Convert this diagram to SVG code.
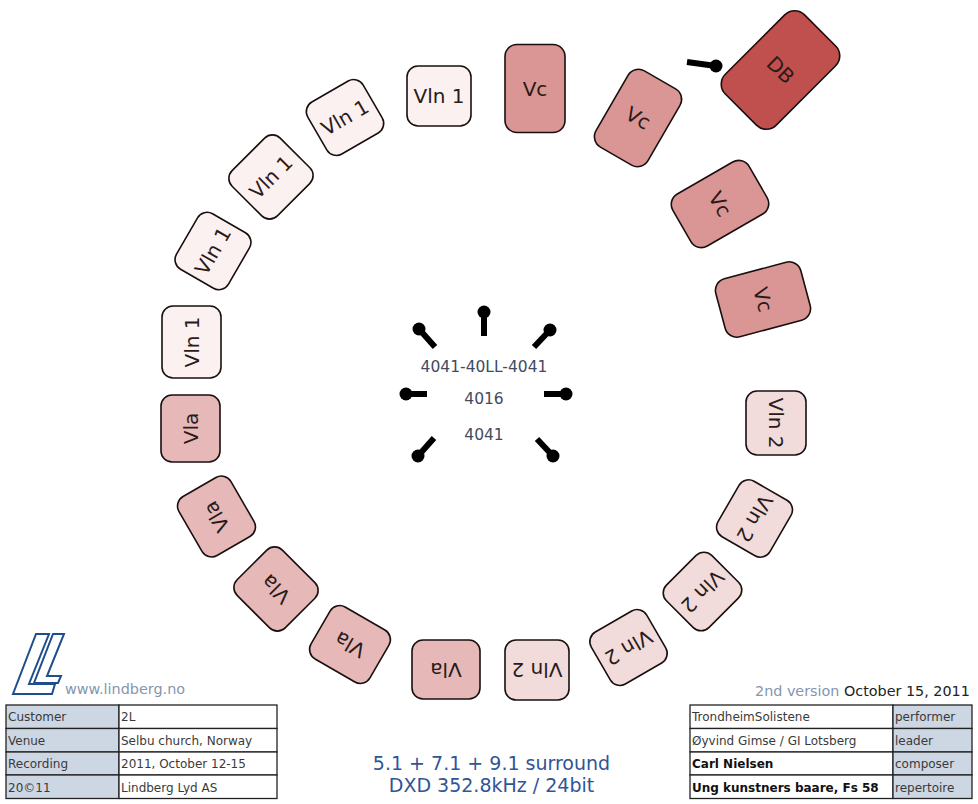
<svg xmlns="http://www.w3.org/2000/svg" width="978" height="804" viewBox="0 0 978 804">
<style>
text{font-family:"DejaVu Sans",Verdana,sans-serif}
.n rect{stroke:#1a0f0f;stroke-width:1.6}
.n text{font-size:20px;fill:#2a1a1a;text-anchor:middle;dominant-baseline:central}
.vc{fill:#d99694}.db{fill:#c0504d}.vla{fill:#e6b9b8}.v1{fill:#fbf1f0}.v2{fill:#f2dcdb}
.st{stroke:#000;stroke-width:6;fill:none}
.c{fill:#000}
.cell{stroke:#222;stroke-width:1.3;fill:#fff}
.lab.cell{fill:#cdd6e3}
.t{font-size:12px;fill:#3a3a3a}
.b{font-size:12px;fill:#111;font-weight:bold}
.m{font-size:15.5px;fill:#3f4c63;text-anchor:middle}
</style>
<rect width="978" height="804" fill="#fff"/>
<g id="connectors"></g>
<g id="n-db" class="n" transform="translate(780.5 70) rotate(45)"><rect class="db" x="-36" y="-56" width="72" height="112" rx="14"/><text>DB</text></g>
<g id="n-vc1" class="n" transform="translate(535 88.5)"><rect class="vc" x="-30" y="-44" width="60" height="88" rx="12"/><text>Vc</text></g>
<g id="n-vc2" class="n" transform="translate(638 118) rotate(30)"><rect class="vc" x="-30" y="-44" width="60" height="88" rx="12"/><text>Vc</text></g>
<g id="n-vc3" class="n" transform="translate(720 204) rotate(60)"><rect class="vc" x="-30" y="-44" width="60" height="88" rx="12"/><text>Vc</text></g>
<g id="n-vc4" class="n" transform="translate(763 299.5) rotate(75)"><rect class="vc" x="-30" y="-44" width="60" height="88" rx="12"/><text>Vc</text></g>
<g id="n-v1a" class="n" transform="translate(439 96)"><rect class="v1" x="-32" y="-30" width="64" height="60" rx="11"/><text>Vln 1</text></g>
<g id="n-v1b" class="n" transform="translate(345 117.5) rotate(-30)"><rect class="v1" x="-32" y="-30" width="64" height="60" rx="11"/><text>Vln 1</text></g>
<g id="n-v1c" class="n" transform="translate(271 177) rotate(-45)"><rect class="v1" x="-34" y="-32" width="68" height="64" rx="11"/><text>Vln 1</text></g>
<g id="n-v1d" class="n" transform="translate(213 251) rotate(-60)"><rect class="v1" x="-32" y="-30" width="64" height="60" rx="11"/><text>Vln 1</text></g>
<g id="n-v1e" class="n" transform="translate(191.5 342) rotate(-90)"><rect class="v1" x="-36" y="-29.500" width="72" height="59" rx="11"/><text>Vln 1</text></g>
<g id="n-vla1" class="n" transform="translate(190.5 428.500) rotate(-90)"><rect class="vla" x="-33.500" y="-29.500" width="67" height="59" rx="11"/><text>Vla</text></g>
<g id="n-vla2" class="n" transform="translate(216.500 516.500) rotate(-120)"><rect class="vla" x="-34" y="-30" width="68" height="60" rx="11"/><text>Vla</text></g>
<g id="n-vla3" class="n" transform="translate(276 589) rotate(-135)"><rect class="vla" x="-34" y="-32" width="68" height="64" rx="11"/><text>Vla</text></g>
<g id="n-vla4" class="n" transform="translate(350 644.500) rotate(-150)"><rect class="vla" x="-34" y="-30" width="68" height="60" rx="11"/><text>Vla</text></g>
<g id="n-vla5" class="n" transform="translate(446 669.500) rotate(180)"><rect class="vla" x="-34" y="-29.500" width="68" height="59" rx="11"/><text>Vla</text></g>
<g id="n-v2a" class="n" transform="translate(537 670) rotate(180)"><rect class="v2" x="-32" y="-30" width="64" height="60" rx="11"/><text>Vln 2</text></g>
<g id="n-v2b" class="n" transform="translate(628.500 647.500) rotate(150)"><rect class="v2" x="-32" y="-30" width="64" height="60" rx="11"/><text>Vln 2</text></g>
<g id="n-v2c" class="n" transform="translate(702.500 591.500) rotate(135)"><rect class="v2" x="-32" y="-30" width="64" height="60" rx="11"/><text>Vln 2</text></g>
<g id="n-v2d" class="n" transform="translate(754.500 518.500) rotate(120)"><rect class="v2" x="-32" y="-30" width="64" height="60" rx="11"/><text>Vln 2</text></g>
<g id="n-v2e" class="n" transform="translate(776 423) rotate(90)"><rect class="v2" x="-32" y="-30" width="64" height="60" rx="11"/><text>Vln 2</text></g>
<g id="mics">
<path class="st" d="M484 336V312M534 347L550 330M435 347L419 329M427 394H406M544 394H566M434 438L418 456M537 439L553 456M687 62L716 66"/>
<circle class="c" cx="484" cy="312" r="6.500"/><circle class="c" cx="550" cy="330" r="6.500"/><circle class="c" cx="419" cy="329" r="6.500"/><circle class="c" cx="406" cy="394" r="6.500"/><circle class="c" cx="566" cy="394" r="6.500"/><circle class="c" cx="418" cy="456" r="6.500"/><circle class="c" cx="553" cy="456" r="6.500"/><circle class="c" cx="716" cy="66" r="6.500"/>
</g>
<text class="m" x="484" y="372">4041-40LL-4041</text>
<text class="m" x="484" y="404">4016</text>
<text class="m" x="484" y="440">4041</text>
<g id="logo" fill="none" stroke="#1f4e8c" stroke-width="2"><path d="M36 634H49L29 684H55L52 694H13Z"/><path d="M53 634H64L47 676H61L58 683H34Z"/></g>
<text x="65" y="694" font-size="14.400" fill="#8496b0">www.lindberg.no</text>
<g id="tableL">
<rect class="cell lab" x="6" y="705" width="113" height="23.500"/><rect class="cell" x="119" y="705" width="158" height="23.500"/>
<rect class="cell lab" x="6" y="728.500" width="113" height="23.500"/><rect class="cell" x="119" y="728.500" width="158" height="23.500"/>
<rect class="cell lab" x="6" y="752" width="113" height="23"/><rect class="cell" x="119" y="752" width="158" height="23"/>
<rect class="cell lab" x="6" y="775" width="113" height="23.500"/><rect class="cell" x="119" y="775" width="158" height="23.500"/>
<text class="t" x="8" y="721">Customer</text><text class="t" x="121" y="721">2L</text>
<text class="t" x="8" y="745">Venue</text><text class="t" x="121" y="745">Selbu church, Norway</text>
<text class="t" x="8" y="768">Recording</text><text class="t" x="121" y="768">2011, October 12-15</text>
<text class="t" x="8" y="792">20©11</text><text class="t" x="121" y="792">Lindberg Lyd AS</text>
</g>
<text x="755" y="696" font-size="14.350" fill="#8496b0">2nd version <tspan fill="#222">October 15, 2011</tspan></text>
<g id="tableR">
<rect class="cell" x="690" y="705" width="203" height="23.500"/><rect class="cell lab" x="893" y="705" width="79" height="23.500"/>
<rect class="cell" x="690" y="728.500" width="203" height="23.500"/><rect class="cell lab" x="893" y="728.500" width="79" height="23.500"/>
<rect class="cell" x="690" y="752" width="203" height="23"/><rect class="cell lab" x="893" y="752" width="79" height="23"/>
<rect class="cell" x="690" y="775" width="203" height="23.500"/><rect class="cell lab" x="893" y="775" width="79" height="23.500"/>
<text class="t" x="692" y="721">TrondheimSolistene</text><text class="t" x="895" y="721">performer</text>
<text class="t" x="692" y="745">Øyvind Gimse / GI Lotsberg</text><text class="t" x="895" y="745">leader</text>
<text class="b" x="692" y="768">Carl Nielsen</text><text class="t" x="895" y="768">composer</text>
<text class="b" x="692" y="792">Ung kunstners baare, Fs 58</text><text class="t" x="895" y="792">repertoire</text>
</g>
<text x="491.500" y="770" font-size="19" fill="#2f5597" text-anchor="middle">5.1 + 7.1 + 9.1 surround</text>
<text x="491.500" y="792" font-size="19" fill="#2f5597" text-anchor="middle">DXD 352.8kHz / 24bit</text>
</svg>
